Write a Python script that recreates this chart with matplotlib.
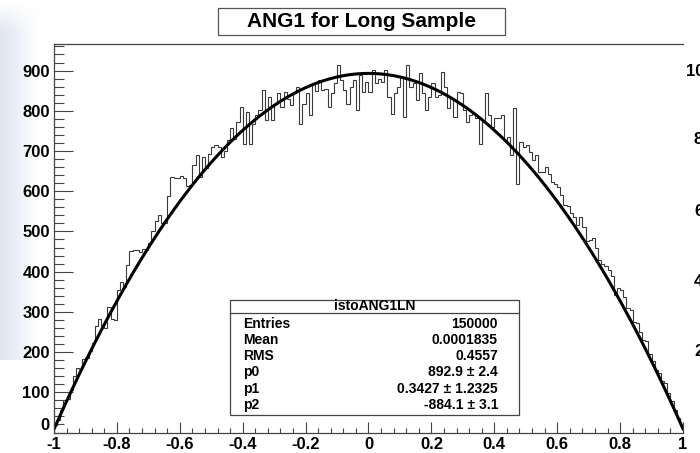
import numpy as np
import matplotlib
matplotlib.use("Agg")
import matplotlib.pyplot as plt
import matplotlib.transforms as mtransforms
from matplotlib.patches import Rectangle
from matplotlib.lines import Line2D

plt.rcParams['font.family'] = ['Liberation Sans', 'DejaVu Sans']
plt.rcParams['font.weight'] = 'bold'

# histogram "istoANG1LN": 200 bins from -1 to 1
x_lo, x_hi, n_bins = -1.0, 1.0, 200
counts = [
    18, 30, 55, 80, 84, 105, 140, 160, 158, 182,
    185, 202, 223, 264, 283, 262, 260, 313, 282, 280,
    354, 375, 363, 417, 452, 455, 454, 450, 457, 455,
    470, 500, 525, 540, 520, 522, 587, 636, 632, 634,
    638, 632, 612, 615, 665, 690,
    636, 686, 657, 693, 710, 714, 710, 686, 700, 727,
    756, 731, 772, 810, 718, 797, 718, 768, 790, 801,
    851, 777, 835, 777, 818, 843, 810, 847, 830, 814,
    843, 860, 768, 818, 843, 789, 868, 850, 876, 851,
    855, 810, 843, 868, 915,
    876, 851, 818, 860, 876, 801, 889, 847, 872, 847,
    901, 870, 880, 872, 901, 835, 793, 843, 860, 885,
    785, 913, 860, 868, 826, 893, 845, 801, 835, 868,
    835, 839, 897, 860, 806, 831, 785, 847, 843, 801,
    772, 790, 793, 781, 718, 772, 843, 789, 760, 781,
    781,
    789, 727, 735, 690, 806, 619, 723, 710, 714, 698,
    678, 690, 648, 648, 661, 644, 624, 619, 611, 590,
    566, 562, 545, 537, 516, 537, 512, 475, 479, 483,
    458, 429, 420, 413, 404, 388, 342, 359, 354, 338,
    309, 305, 276, 272, 251, 231, 227, 194, 177, 156,
    148, 127, 123, 98, 78, 57, 36, 18,
]

# fit pol2 parameters (stats box)
p0, p1, p2 = 892.9, 0.3427, -884.1
stat_names = ["Entries", "Mean", "RMS", "p0", "p1", "p2"]
stat_values = ["150000", "0.0001835", "0.4557", "892.9 \u00b1 2.4",
               "0.3427 \u00b1 1.2325", "-884.1 \u00b1 3.1"]

xtick_vals = [-1, -0.8, -0.6, -0.4, -0.2, 0, 0.2, 0.4, 0.6, 0.8, 1]
xtick_labels = ["-1", "-0.8", "-0.6", "-0.4", "-0.2", "0", "0.2", "0.4", "0.6", "0.8", "1"]
ytick_vals = [0, 100, 200, 300, 400, 500, 600, 700, 800, 900]

W, H = 700, 453
fig = plt.figure(figsize=(7.0, 4.53), dpi=100)

# faint slide background on the far left
bg = fig.add_axes([0, 1 - 360 / H, 42 / W, 360 / H], zorder=-5)
gx = np.clip(np.linspace(1.1, -0.1, 60), 0, 1)[None, :]
gy = np.clip(np.linspace(1.0, 0.0, 80) * 12, 0, 1)[::-1][:, None]
grad = gx * gy
rgb = np.ones((80, 60, 3))
base = np.array([0.88, 0.90, 0.94])
for k in range(3):
    rgb[:, :, k] = 1 - (1 - base[k]) * grad
bg.imshow(rgb, aspect='auto', interpolation='bilinear')
bg.axis('off')

ax = fig.add_axes([54 / W, (H - 432.5) / H, (683 - 54) / W, (432.5 - 44) / H])

edges = np.linspace(x_lo, x_hi, n_bins + 1)
ax.stairs(counts, edges, color='#3a3a3a', lw=0.8)

xf = np.linspace(x_lo, x_hi, 400)
ax.plot(xf, p0 + p1 * xf + p2 * xf ** 2, color='black', lw=2.2)

ax.set_xlim(x_lo, x_hi)
ax.set_ylim(0, 966)
ax.set_xticks(xtick_vals)
ax.set_xticklabels(xtick_labels)
ax.set_xticks(np.arange(-1, 1.0001, 0.04), minor=True)
ax.set_yticks(ytick_vals)
ax.set_yticks(np.arange(0, 961, 20), minor=True)
ax.tick_params(axis='x', which='major', direction='in', length=7.7, width=0.8,
               labelsize=12, pad=3, color='#444444')
ax.tick_params(axis='x', which='minor', direction='in', length=3.8, width=0.8, color='#444444')
ax.tick_params(axis='y', which='major', direction='in', length=13.5, width=0.8,
               labelsize=12, pad=3, color='#444444')
ax.tick_params(axis='y', which='minor', direction='in', length=7, width=0.8, color='#444444')
for lab in ax.get_xticklabels() + ax.get_yticklabels():
    lab.set_fontweight('bold')
# the "0" of the y axis sits a little higher, above the "-1"
ylab0 = ax.get_yticklabels()[0]
ylab0.set_transform(ylab0.get_transform() +
                    mtransforms.ScaledTranslation(0, 6 / 72, fig.dpi_scale_trans))
ax.spines['right'].set_visible(False)
for s in ['left', 'bottom', 'top']:
    ax.spines[s].set_color('#444444')
    ax.spines[s].set_linewidth(0.9)

# title box
fig.patches.append(Rectangle((218 / W, 1 - 35 / H), (505 - 218) / W, 27 / H,
                             transform=fig.transFigure, facecolor='white',
                             edgecolor='#555555', lw=0.9))
fig.text(361.5 / W, 1 - 21.5 / H, "ANG1 for Long Sample", ha='center', va='center',
         fontsize=15, fontweight='bold')

# stats box
bx0, bx1, by0, by1 = 230, 519, 299.5, 415
fig.patches.append(Rectangle((bx0 / W, 1 - by1 / H), (bx1 - bx0) / W, (by1 - by0) / H,
                             transform=fig.transFigure, facecolor='white',
                             edgecolor='#444444', lw=0.9, zorder=5))
fig.lines.append(Line2D([bx0 / W, bx1 / W], [1 - 312.7 / H, 1 - 312.7 / H],
                        transform=fig.transFigure, color='#444444', lw=0.9, zorder=6))
fig.text((bx0 + bx1) / 2 / W, 1 - 306 / H, "istoANG1LN", ha='center', va='center',
         fontsize=10, fontweight='bold', zorder=7)
row_y = [323.5, 340, 356, 372, 389, 405]
for name, val, yy in zip(stat_names, stat_values, row_y):
    fig.text(243 / W, 1 - yy / H, name, ha='left', va='center', fontsize=10,
             fontweight='bold', zorder=7)
    fig.text(498 / W, 1 - yy / H, val, ha='right', va='center', fontsize=10,
             fontweight='bold', zorder=7)

# labels of the neighbouring pad, cut by the edge
for lab, xx, yy in [("10", 686, 72), ("8", 694, 140), ("6", 694, 212),
                    ("4", 694, 281), ("2", 694, 352)]:
    fig.text(xx / W, 1 - yy / H, lab, ha='left', va='center', fontsize=12,
             fontweight='bold')

fig.savefig("out.png", dpi=100)
